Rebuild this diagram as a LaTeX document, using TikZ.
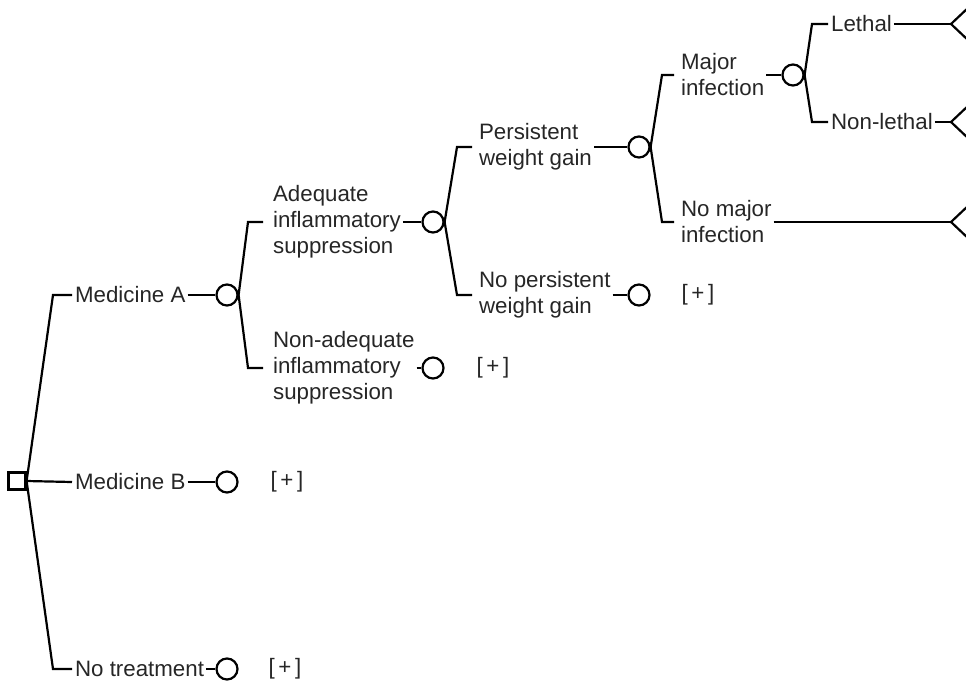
\documentclass[tikz,border=0pt]{standalone}
\usepackage{fontspec}
\setmainfont{Liberation Sans}
\begin{document}
\begin{tikzpicture}[x=1pt,y=-1pt,
  line width=2.2pt,
  every node/.style={font=\fontsize{22.3}{26}\selectfont, text=black!85},
  lbl/.style={anchor=west, align=left, inner xsep=1pt, inner ysep=0pt},
  chance/.style={draw, circle, minimum size=21pt, inner sep=0pt, line width=2.2pt},
  decision/.style={draw, rectangle, minimum size=17pt, inner sep=0pt, line width=2.2pt},
  more/.style={inner sep=0pt},
  branch/.style={line width=2.2pt}
]
\useasboundingbox (0,0) rectangle (966,685);
\clip (0,0) rectangle (966,685);

% decision node
\node[decision] (root) at (17,481) {};

% first level: treatments
\node[lbl] (medA) at (73,295) {Medicine A};
\node[lbl] (medB) at (73,482) {Medicine B};
\node[lbl] (none) at (73,669) {No treatment};

\draw[branch] (root.east) -- ([xshift=-20pt]medA.west) -- ([xshift=-1pt]medA.west);
\draw[branch] (root.east) -- ([xshift=-1pt]medB.west);
\draw[branch] (root.east) -- ([xshift=-20pt]none.west) -- ([xshift=-1pt]none.west);

\node[chance] (cA) at (227,295) {};
\node[chance] (cB) at (227,482) {};
\node[chance] (cN) at (227,669) {};
\draw[branch] (medA.east) -- (cA.west);
\draw[branch] (medB.east) -- (cB.west);
\draw[branch] (none.east) -- (cN.west);

\node[more] (pB) at (287,482) {[\,+\,]};
\node[more] (pN) at (285,669) {[\,+\,]};

% second level: inflammatory suppression
\node[lbl] (adq) at (271,222) {Adequate\\inflammatory\\suppression};
\node[lbl] (nadq) at (271,368) {Non-adequate\\inflammatory\\suppression};
\draw[branch] (cA.east) -- ([xshift=-23pt]adq.west) -- ([xshift=-8pt]adq.west);
\draw[branch] (cA.east) -- ([xshift=-23pt]nadq.west) -- ([xshift=-8pt]nadq.west);

\node[chance] (cAdq) at (433,222) {};
\node[chance] (cNadq) at (433,368) {};
\draw[branch] (adq.east) -- (cAdq.west);
\draw[branch] (nadq.east) -- (cNadq.west);
\node[more] (pNadq) at (493,368) {[\,+\,]};

% third level: weight gain
\node[lbl] (pwg) at (477,147) {Persistent\\weight gain};
\node[lbl] (npwg) at (477,295) {No persistent\\weight gain};
\draw[branch] (cAdq.east) -- ([xshift=-20pt]pwg.west) -- ([xshift=-5pt]pwg.west);
\draw[branch] (cAdq.east) -- ([xshift=-20pt]npwg.west) -- ([xshift=-5pt]npwg.west);

\node[chance] (cPwg) at (639,147) {};
\node[chance] (cNpwg) at (639,295) {};
\draw[branch] (pwg.east) -- (cPwg.west);
\draw[branch] (npwg.east) -- (cNpwg.west);
\node[more] (pNpwg) at (698,295) {[\,+\,]};

% fourth level: infection
\node[lbl] (maj) at (679,75) {Major\\infection};
\node[lbl] (nmaj) at (679,222) {No major\\infection};
\draw[branch] (cPwg.east) -- ([xshift=-17pt]maj.west) -- ([xshift=-5pt]maj.west);
\draw[branch] (cPwg.east) -- ([xshift=-17pt]nmaj.west) -- ([xshift=-5pt]nmaj.west);

\node[chance] (cMaj) at (793,75) {};
\draw[branch] (maj.east) -- (cMaj.west);

% fifth level: outcome of infection
\node[lbl] (leth) at (829,24) {Lethal};
\node[lbl] (nleth) at (829,122) {Non-lethal};
\draw[branch] (cMaj.east) -- ([xshift=-17pt]leth.west) -- ([xshift=-1pt]leth.west);
\draw[branch] (cMaj.east) -- ([xshift=-17pt]nleth.west) -- ([xshift=-1pt]nleth.west);

% terminal nodes
\coordinate (tL) at (951,24);
\coordinate (tN) at (951,122);
\coordinate (tM) at (951,222);
\draw[branch] (leth.east) -- (tL);
\draw[branch] (nleth.east) -- (tN);
\draw[branch] (nmaj.east) -- (tM);
\foreach \t in {tL,tN,tM}
  \draw[branch, line join=miter] (\t) -- ++(18,-17) -- ++(0,34) -- cycle;
\end{tikzpicture}
\end{document}
